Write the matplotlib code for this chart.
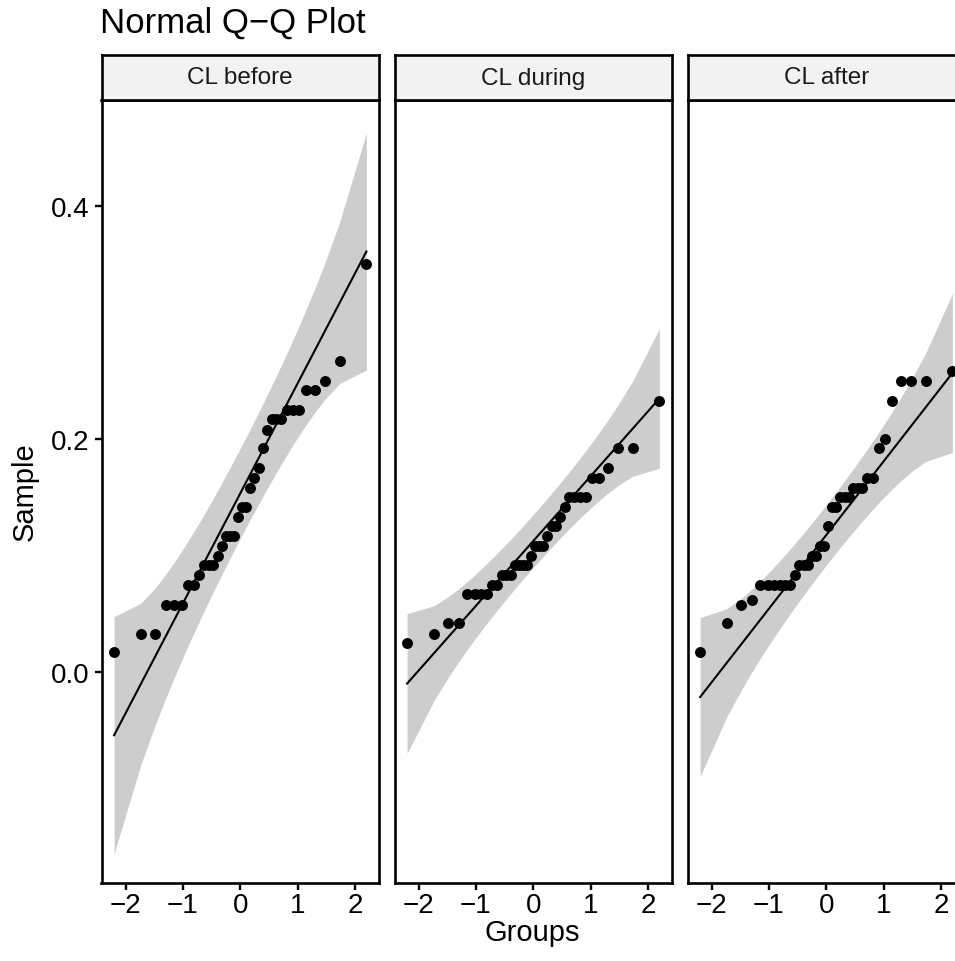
import matplotlib
matplotlib.use("Agg")
import matplotlib.pyplot as plt
import numpy as np
from statistics import NormalDist

# data (sample values per facet)
groups = ["CL before", "CL during", "CL after"]
cl_before = [0.017, 0.033, 0.033, 0.058, 0.058, 0.058, 0.075, 0.075, 0.083, 0.092,
             0.092, 0.092, 0.100, 0.108, 0.117, 0.117, 0.117, 0.133, 0.142, 0.142,
             0.158, 0.167, 0.175, 0.192, 0.208, 0.217, 0.217, 0.217, 0.225, 0.225,
             0.225, 0.242, 0.242, 0.250, 0.267, 0.350]
cl_during = [0.025, 0.033, 0.042, 0.042, 0.067, 0.067, 0.067, 0.067, 0.075, 0.075,
             0.083, 0.083, 0.083, 0.092, 0.092, 0.092, 0.092, 0.100, 0.108, 0.108,
             0.108, 0.117, 0.125, 0.125, 0.133, 0.142, 0.150, 0.150, 0.150, 0.150,
             0.167, 0.167, 0.175, 0.192, 0.192, 0.233]
cl_after = [0.017, 0.042, 0.058, 0.062, 0.075, 0.075, 0.075, 0.075, 0.075, 0.075,
            0.083, 0.092, 0.092, 0.092, 0.100, 0.100, 0.108, 0.108, 0.125, 0.142,
            0.142, 0.150, 0.150, 0.150, 0.158, 0.158, 0.158, 0.167, 0.167, 0.192,
            0.200, 0.233, 0.250, 0.250, 0.250, 0.258]
samples = [cl_before, cl_during, cl_after]
y_ticks = [0.0, 0.2, 0.4]
x_ticks = [-2, -1, 0, 1, 2]
y_limits = (-0.181, 0.491)
conf_level = 0.95

nd = NormalDist()


def qq_stats(values):
    y = np.sort(np.asarray(values, dtype=float))
    n = len(y)
    P = (np.arange(1, n + 1) - 0.5) / n
    z = np.array([nd.inv_cdf(p) for p in P])
    q1, q3 = np.quantile(y, [0.25, 0.75])
    zq = np.array([nd.inv_cdf(0.25), nd.inv_cdf(0.75)])
    slope = (q3 - q1) / (zq[1] - zq[0])
    inter = q1 - slope * zq[0]
    fit = inter + slope * z
    dens = np.array([nd.pdf(v) for v in z])
    se = slope / dens * np.sqrt(P * (1 - P) / n)
    zz = nd.inv_cdf(1 - (1 - conf_level) / 2)
    return z, y, fit, fit - zz * se, fit + zz * se


stats = [qq_stats(s) for s in samples]
zmax = max(s[0].max() for s in stats)

plt.rcParams['font.family'] = ['Liberation Sans', 'DejaVu Sans']

W, H = 955, 962
fig = plt.figure(figsize=(W / 100, H / 100), dpi=100)


def rect(x0, y0, x1, y1):
    return [x0 / W, 1 - y1 / H, (x1 - x0) / W, (y1 - y0) / H]


lefts = [101.5, 394.5, 687.5]
pw = 277.5
top, bottom, strip_top = 101, 884, 56
lw = 1.9

for i, (name, st) in enumerate(zip(groups, stats)):
    z, y, fit, lo, hi = st
    x0 = lefts[i]
    ax = fig.add_axes(rect(x0, top, x0 + pw, bottom))
    ax.fill_between(z, lo, hi, color="#CDCDCD", linewidth=0, zorder=1)
    ax.plot(z, fit, color="black", linewidth=1.5, zorder=2)
    ax.scatter(z, y, s=62, color="black", linewidths=0, zorder=3)
    ax.set_xlim(-zmax * 1.1, zmax * 1.1)
    ax.set_ylim(*y_limits)
    for sp in ax.spines.values():
        sp.set_linewidth(lw)
        sp.set_color("black")
    ax.set_xticks(x_ticks)
    ax.set_xticklabels([f"{t}".replace("-", "\u2212") for t in x_ticks])
    ax.tick_params(axis="x", length=5, width=lw * 0.9, labelsize=20, pad=1.5)
    if i == 0:
        ax.set_yticks(y_ticks)
        ax.set_yticklabels([f"{t:.1f}" for t in y_ticks])
        ax.tick_params(axis="y", length=5, width=lw * 0.9, labelsize=20, pad=4)
    else:
        ax.set_yticks([])

    sax = fig.add_axes(rect(x0, strip_top, x0 + pw, top))
    sax.set_facecolor("#F2F2F2")
    sax.set_xticks([])
    sax.set_yticks([])
    for sp in sax.spines.values():
        sp.set_linewidth(lw)
        sp.set_color("black")
    sax.text(0.5, 0.5, name, ha="center", va="center", fontsize=17.5,
             color="#1A1A1A", transform=sax.transAxes)

fig.text(100 / W, 1 - 33 / H, "Normal Q\u2212Q Plot", fontsize=25,
         ha="left", va="baseline")
fig.text(25 / W, 1 - 492 / H, "Sample", rotation=90, fontsize=21,
         ha="center", va="center")
fig.text(532.5 / W, 1 - 941 / H, "Groups", fontsize=21,
         ha="center", va="baseline")

fig.savefig("out.png", dpi=100)
